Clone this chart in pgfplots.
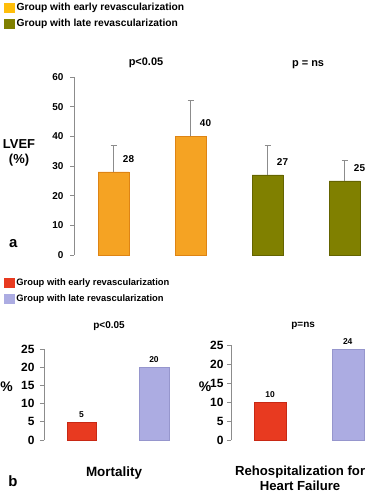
\documentclass[border=0pt]{standalone}
\usepackage{fontspec}
\setmainfont{Liberation Sans}
\usepackage{pgfplots}
\pgfplotsset{compat=1.18}
\definecolor{lvorange}{RGB}{245,163,35}
\definecolor{lvorangeD}{RGB}{222,132,20}
\definecolor{legorange}{RGB}{255,190,10}
\definecolor{lvolive}{RGB}{128,128,0}
\definecolor{lvoliveD}{RGB}{100,100,0}
\definecolor{mred}{RGB}{232,58,32}
\definecolor{mredD}{RGB}{200,40,20}
\definecolor{lav}{RGB}{172,172,226}
\definecolor{lavD}{RGB}{150,150,205}
\definecolor{axgray}{RGB}{140,140,140}
\pgfplotsset{
  base/.style={
    scale only axis, clip=false, enlargelimits=false,
    axis x line=none, axis y line*=left,
    axis line style={axgray, line width=0.8pt},
    tick align=outside, major tick length=4bp,
    ytick style={axgray, line width=0.8pt},
    /pgf/number format/assume math mode=true,
    ybar, bar shift=0pt, anchor=south west,
    legend cell align=left,
    legend style={draw=none, fill=none, inner sep=0pt, outer sep=0pt, anchor=north west},
  },
}
\begin{document}
\begin{tikzpicture}
\path[use as bounding box] (0,0) rectangle (370bp,493bp);
% ---------- panel a ----------
\begin{axis}[base, at={(74bp,238bp)}, width=296bp, height=178bp,
  xmin=0, xmax=3.844, ymin=0, ymax=60, ytick={0,10,...,60},
  yticklabel style={font=\bfseries\fontsize{10}{10}\selectfont, xshift=-3bp},
  bar width=31bp,
  legend style={at={(-0.236,1.427)}, font=\bfseries\fontsize{10.3}{11}\selectfont, row sep=3.5bp},
  nodes near coords, nodes near coords style={font=\bfseries\fontsize{10}{12}\selectfont, anchor=center, xshift=15bp, yshift=13bp},
  error bars/y dir=plus, error bars/y explicit,
  error bars/error bar style={axgray, line width=0.8pt},
  error bars/error mark options={axgray, mark size=3bp, line width=0.8pt, rotate=90},
]
\addlegendimage{legend image code/.code={\fill[legorange] (0bp,-4.5bp) rectangle (10bp,4.5bp);}}
\addlegendentry{Group with early revascularization}
\addlegendimage{legend image code/.code={\fill[lvolive] (0bp,-4.5bp) rectangle (10bp,4.5bp);}}
\addlegendentry{Group with late revascularization}
\addplot[fill=lvorange, draw=lvorangeD, forget plot] coordinates {(0.513,28) +- (0,9) (1.513,40) +- (0,12)};
\addplot[fill=lvolive, draw=lvoliveD, forget plot] coordinates {(2.513,27) +- (0,10) (3.513,25) +- (0,7)};
\node[font=\bfseries\fontsize{11}{13}\selectfont] at (axis cs:0.935,64.7) {p<0.05};
\node[font=\bfseries\fontsize{11}{13}\selectfont] at (axis cs:3.04,64) {p = ns};
\node[font=\bfseries\fontsize{13}{15}\selectfont, align=center] at (axis cs:-0.714,34.55) {LVEF\\(\%)};
\node[font=\bfseries\fontsize{15}{15}\selectfont] at (axis cs:-0.79,4) {a};
\end{axis}
% ---------- panel b, mortality ----------
\begin{axis}[base, at={(44bp,53bp)}, width=145bp, height=91bp,
  xmin=0, xmax=2, ymin=0, ymax=25, ytick={0,5,...,25},
  yticklabel style={font=\bfseries\fontsize{12}{12}\selectfont, xshift=-2bp},
  bar width=29.5bp,
  legend style={at={(-0.276,1.791)}, font=\bfseries\fontsize{9.4}{10}\selectfont, row sep=3bp},
  nodes near coords, nodes near coords style={font=\bfseries\fontsize{8.5}{10}\selectfont, anchor=south, yshift=4bp, inner sep=0pt},
]
\addlegendimage{legend image code/.code={\fill[mred] (0bp,-4.5bp) rectangle (10bp,4.5bp);}}
\addlegendentry{Group with early revascularization}
\addlegendimage{legend image code/.code={\fill[lav] (0bp,-4.5bp) rectangle (10bp,4.5bp);}}
\addlegendentry{Group with late revascularization}
\addplot[fill=mred, draw=mredD, forget plot] coordinates {(0.517,5)};
\addplot[fill=lav, draw=lavD, forget plot] coordinates {(1.517,20)};
\node[font=\bfseries\fontsize{10}{12}\selectfont] at (axis cs:0.897,31.3) {p<0.05};
\node[font=\bfseries\fontsize{14}{14}\selectfont] at (axis cs:-0.517,14.6) {\%};
\node[font=\bfseries\fontsize{13.5}{15}\selectfont] at (axis cs:0.966,-9.07) {Mortality};
\node[font=\bfseries\fontsize{15}{15}\selectfont] at (axis cs:-0.428,-11.3) {b};
\end{axis}
% ---------- panel b, rehospitalization ----------
\begin{axis}[base, at={(231bp,53bp)}, width=139bp, height=95bp,
  xmin=0, xmax=1.79, ymin=0, ymax=25, ytick={0,5,...,25},
  yticklabel style={font=\bfseries\fontsize{12}{12}\selectfont},
  bar width=32bp,
  nodes near coords, nodes near coords style={font=\bfseries\fontsize{8.5}{10}\selectfont, anchor=south, yshift=4bp, inner sep=0pt},
]
\addplot[fill=mred, draw=mredD] coordinates {(0.503,10)};
\addplot[fill=lav, draw=lavD] coordinates {(1.503,24)};
\node[font=\bfseries\fontsize{10}{12}\selectfont] at (axis cs:0.929,30.0) {p=ns};
\node[font=\bfseries\fontsize{14}{14}\selectfont] at (axis cs:-0.335,13.9) {\%};
\node[font=\bfseries\fontsize{13.2}{15}\selectfont, align=center] at (axis cs:0.89,-10.1) {Rehospitalization for\\Heart Failure};
\end{axis}
\end{tikzpicture}
\end{document}
